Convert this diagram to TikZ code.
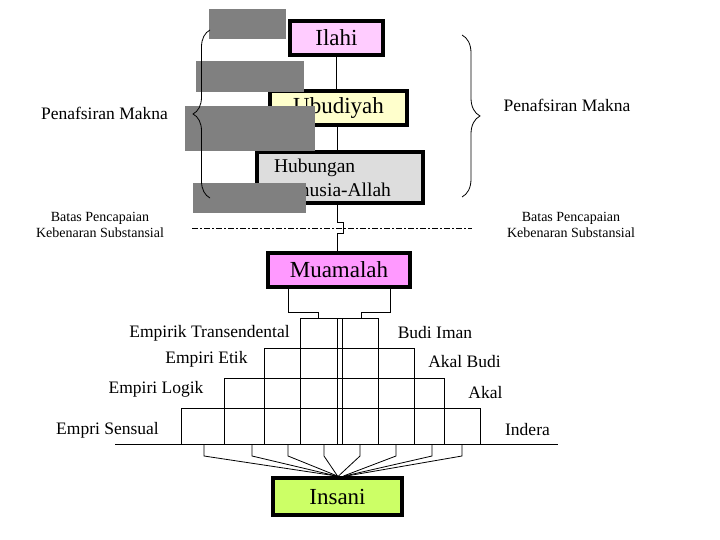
\documentclass[tikz,border=0pt]{standalone}
\usepackage{fontspec}
\setmainfont{Liberation Serif}
\usetikzlibrary{decorations.pathreplacing}
\definecolor{ilahifill}{RGB}{255,204,255}
\definecolor{ubudfill}{RGB}{255,255,204}
\definecolor{hubfill}{RGB}{221,221,221}
\definecolor{muafill}{RGB}{255,153,255}
\definecolor{insfill}{RGB}{204,255,102}
\newcommand{\bigtext}[0]{\fontsize{23}{26}\selectfont}
\newcommand{\midtext}[0]{\fontsize{17.5}{20}\selectfont}
\newcommand{\smalltext}[0]{\fontsize{14}{16}\selectfont}
\tikzset{
levelbox/.style={
  align=center,
  draw=black,
  line width=4pt,
  inner sep=0pt,
  font=\bigtext
  }
}
\tikzset{
sidelabel/.style={
  align=center,
  inner sep=0pt,
  font=\midtext
  }
}
\tikzset{
limitlabel/.style={
  align=center,
  inner sep=0pt,
  font=\smalltext
  }
}
\tikzset{
cover/.style={
  fill=gray,
  draw=none
  }
}
\tikzstyle{edge} = [draw,line width=0.8pt]
\tikzstyle{curly} = [draw,line width=0.8pt,decorate]
\tikzset{%
    %boundingBox/.style={use as bounding box,draw},
    boundingBox/.style={use as bounding box},
    }
\begin{document}
\begin{tikzpicture}[x=1pt, y=-1pt]
        \path[boundingBox] (0,0) rectangle (720,540);
	\pgfdeclarelayer{foreground}
	\pgfsetlayers{main,foreground}

	\begin{pgfonlayer}{main}
		%vertices
		\node (ilahi) at (336.5, 38) [levelbox, fill=ilahifill, minimum width=93pt, minimum height=34pt] {Ilahi};
		\node (ubud) at (338.5, 108) [levelbox, fill=ubudfill, minimum width=137pt, minimum height=34pt] {Ubudiyah};
		\node (hub) at (340, 177.5) [levelbox, fill=hubfill, minimum width=166pt, minimum height=51pt,
		      align=left, text width=132pt, font=\fontsize{19.5}{24}\selectfont] {Hubungan\\Manusia-Allah};
		\node (mua) at (339, 270) [levelbox, fill=muafill, minimum width=142pt, minimum height=34pt] {Muamalah};
		\node (ins) at (337.5, 496.5) [levelbox, fill=insfill, minimum width=129pt, minimum height=37pt] {Insani};

		%labels
		\node (tafsirL) at (104.5, 113) [sidelabel] {Penafsiran Makna};
		\node (tafsirR) at (567, 105) [sidelabel] {Penafsiran Makna};
		\node (batasL) at (100, 225) [limitlabel] {Batas Pencapaian\\Kebenaran Substansial};
		\node (batasR) at (571, 225) [limitlabel] {Batas Pencapaian\\Kebenaran Substansial};

		\node (empTrans) at (209.5, 333) [sidelabel] {Empirik Transendental};
		\node (empEtik) at (206.5, 359) [sidelabel] {Empiri Etik};
		\node (empLogik) at (156, 389) [sidelabel] {Empiri Logik};
		\node (empSens) at (107.5, 430) [sidelabel] {Empri Sensual};
		\node (budiIman) at (435, 333) [sidelabel] {Budi Iman};
		\node (akalBudi) at (464.5, 362) [sidelabel] {Akal Budi};
		\node (akal) at (485.5, 393) [sidelabel] {Akal};
		\node (indera) at (527.5, 430) [sidelabel] {Indera};

		%pyramid
		\draw[edge] (300,318) -- (378,318);
		\draw[edge] (264,348) -- (414,348);
		\draw[edge] (224,378) -- (444,378);
		\draw[edge] (181,408) -- (480,408);
		\draw[edge] (115,444) -- (558,444);
		\draw[edge] (181,408) -- (181,444);
		\draw[edge] (224,378) -- (224,444);
		\draw[edge] (264,348) -- (264,444);
		\draw[edge] (300,318) -- (300,444);
		\draw[edge] (337,318) -- (337,444);
		\draw[edge] (342,318) -- (342,444);
		\draw[edge] (378,318) -- (378,444);
		\draw[edge] (414,348) -- (414,444);
		\draw[edge] (444,378) -- (444,444);
		\draw[edge] (480,408) -- (480,444);

		\coordinate (topL) at (318,318);
		\coordinate (topR) at (361,318);
		\coordinate (f1) at (204,444);
		\coordinate (f2) at (252,444);
		\coordinate (f3) at (288,444);
		\coordinate (f4) at (324,444);
		\coordinate (f5) at (360,444);
		\coordinate (f6) at (396,444);
		\coordinate (f7) at (432,444);
		\coordinate (f8) at (462,444);

		%limit line
		\draw[line width=0.8pt, dash pattern=on 6pt off 2pt on 2pt off 2pt] (192,228) -- (472,228);

		%edges
		\draw[edge] (ilahi.south) -- (ilahi.south |- ubud.north);
		\draw[edge] ([xshift=-1.5pt]ubud.south) -- ([xshift=-1.5pt]ubud.south |- hub.north);
		\draw[edge] ([xshift=-3pt]hub.south) -- ++(0,17) -- ++(6,0) -- ++(0,11) -- ++(-6,0) -- ([xshift=-2pt]mua.north);

		\draw[edge] ([xshift=-51pt]mua.south) -- ++(0,23) -| (topL);
		\draw[edge] ([xshift=51pt]mua.south) -- ++(0,23) -| (topR);

		\draw[edge] (f1) -- ++(0,12) -- ([xshift=-1pt]ins.north);
		\draw[edge] (f2) -- ++(0,12) -- ([xshift=-1pt]ins.north);
		\draw[edge] (f3) -- ++(0,12) -- ([xshift=0pt]ins.north);
		\draw[edge] (f4) -- ++(0,12) -- ([xshift=0pt]ins.north);
		\draw[edge] (f5) -- ++(0,12) -- ([xshift=1pt]ins.north);
		\draw[edge] (f6) -- ++(0,12) -- ([xshift=6pt]ins.north);
		\draw[edge] (f7) -- ++(0,12) -- ([xshift=7pt]ins.north);
		\draw[edge] (f8) -- ++(0,12) -- ([xshift=9pt]ins.north);
	\end{pgfonlayer}

	\begin{pgfonlayer}{foreground}
		\fill[cover] (209,9) rectangle (286,39);
		\fill[cover] (196,61) rectangle (304,92);
		\fill[cover] (185,106) rectangle (315,151);
		\fill[cover] (193,183) rectangle (306,213);

		\draw[curly, decoration={brace, amplitude=17pt}] (210,198) -- (210,30);
		\draw[curly, decoration={brace, amplitude=18pt}] (462,35) -- (462,197);
	\end{pgfonlayer}
\end{tikzpicture}
\end{document}
